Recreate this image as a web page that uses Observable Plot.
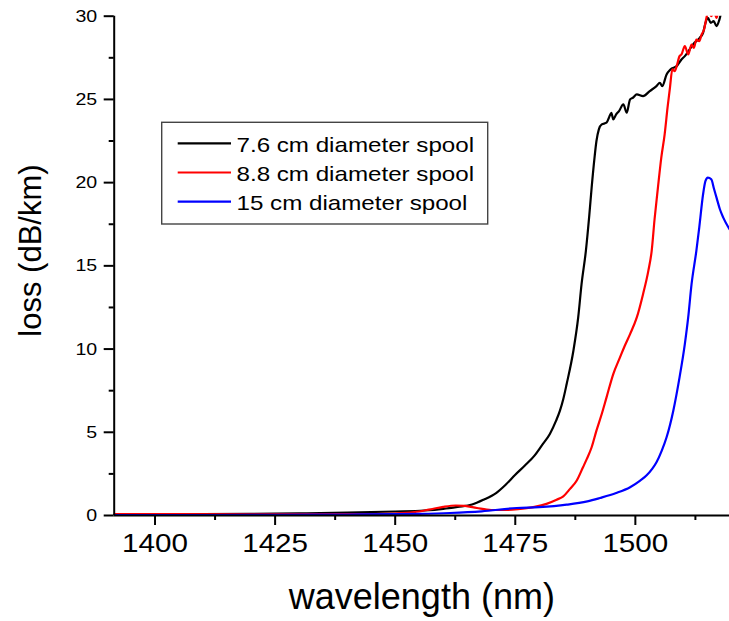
<!DOCTYPE html>
<html>
<head>
<meta charset="utf-8">
<script src="https://cdn.jsdelivr.net/npm/d3@7"></script>
<script src="https://cdn.jsdelivr.net/npm/@observablehq/plot@0.6"></script>
<style>
  body { margin: 0; background: #fff; }
  #wrap { position: relative; width: 729px; height: 621px; }
</style>
</head>
<body>
<div id="wrap"></div>
<script>
// ---- data ----
const seriesNames = ["7.6 cm diameter spool", "8.8 cm diameter spool", "15 cm diameter spool"];
const seriesColors = ["#000000", "#ff0000", "#0000ff"];

const wl76 = [1391.5,1400,1410,1420,1430,1440,1450,1456,1460,1463,1466,1468.4,1471,1473,1475,1477,1479,1480.5,1482.2,1483.5,1484.3,1485,1485.7,1487.1,1488.1,1488.8,1489.7,1490.4,1490.9,1491.5,1491.9,1492.4,1493.0,1494.0,1494.5,1495.0,1495.4,1496.0,1496.6,1497.5,1498.2,1498.9,1499.5,1500.3,1501.6,1503.0,1504.4,1505.1,1505.6,1506.5,1507.3,1508.6,1509.6,1510.3,1511.3,1512.3,1513.4,1514.1,1514.6,1515.1,1515.7,1516.3,1516.9,1517.5,1517.9,1519.6];
const loss76 = [0.05,0.06,0.08,0.10,0.13,0.17,0.24,0.30,0.40,0.52,0.66,0.95,1.35,1.85,2.45,3.0,3.6,4.2,4.9,5.7,6.3,7.0,7.9,9.9,11.9,13.9,15.9,18.0,19.7,21.5,22.5,23.2,23.5,23.6,23.9,24.2,23.8,24.1,24.3,24.7,24.2,25.0,25.1,25.3,25.2,25.5,25.8,26.0,25.8,26.5,26.8,27.0,27.4,27.6,28.0,28.4,28.7,29.0,29.6,29.9,29.6,29.7,29.4,29.8,30.2,30.5];

const wl88 = [1391.5,1400,1420,1440,1450,1454,1457,1460,1462.6,1464.5,1467,1470,1473,1476,1479,1481.5,1483.6,1485,1486.4,1487.8,1489.1,1489.9,1490.9,1491.9,1493.0,1494.0,1495.4,1496.8,1497.8,1498.9,1500.3,1501.6,1502.7,1503.4,1504.0,1504.7,1505.4,1506.1,1506.7,1507.2,1507.7,1508.2,1508.6,1509.2,1509.6,1510.3,1511.0,1511.7,1512.2,1512.7,1513.3,1513.8,1514.3,1514.8,1515.3,1515.8,1516.4,1516.9,1517.5,1518.3,1519.6];
const loss88 = [0.08,0.08,0.07,0.08,0.12,0.2,0.35,0.52,0.6,0.58,0.45,0.33,0.33,0.4,0.52,0.7,0.95,1.15,1.6,2.1,2.9,3.4,4.1,5.1,6.1,7.1,8.5,9.5,10.2,10.9,11.9,13.3,14.7,15.9,17.8,19.7,21.5,22.9,24.5,25.7,26.8,26.7,27.0,27.6,27.7,28.2,27.7,28.3,28.1,28.6,28.5,28.9,29.2,29.9,30.4,30.0,30.3,29.9,30.5,30.2,30.6];

const wl15 = [1391.5,1410,1425,1440,1450,1455,1461.4,1468,1475.3,1480,1485.7,1490,1492.6,1496,1498.9,1501,1502.3,1503.5,1504.4,1505.5,1506.5,1507.9,1509.2,1510.3,1511.0,1511.7,1512.7,1513.3,1514.1,1514.6,1515.1,1515.8,1516.4,1516.9,1517.6,1518.3,1519.6];
const loss15 = [0.02,0.03,0.04,0.06,0.08,0.1,0.15,0.25,0.45,0.5,0.65,0.85,1.05,1.35,1.7,2.1,2.4,2.8,3.2,3.9,4.7,6.3,8.3,10.3,11.9,13.9,15.9,17.3,19.3,20.1,20.3,20.2,19.6,19.1,18.4,17.9,17.2];

const xDomain = [1391.5, 1519.6];
const yDomain = [0, 30];
const xMajorTicks = [1400, 1425, 1450, 1475, 1500];
const xMinorTicks = [1412.5, 1437.5, 1462.5, 1487.5, 1512.5];
const yMajorTicks = [0, 5, 10, 15, 20, 25, 30];
const yMinorTicks = [2.5, 7.5, 12.5, 17.5, 22.5, 27.5];
const xLabel = "wavelength (nm)";
const yLabel = "loss (dB/km)";

// ---- build rows ----
const rows = [];
[[wl76, loss76], [wl88, loss88], [wl15, loss15]].forEach(([wl, ls], i) => {
  wl.forEach((w, j) => rows.push({series: seriesNames[i], wl: w, loss: ls[j]}));
});

const font = "'Liberation Sans', Arial, Helvetica, sans-serif";

const chart = Plot.plot({
  width: 729,
  height: 621,
  marginLeft: 113.7,
  marginRight: 0,
  marginTop: 15.7,
  marginBottom: 106,
  style: {fontFamily: font, background: "white", color: "black", overflow: "visible"},
  x: {domain: xDomain},
  y: {domain: yDomain},
  color: {domain: seriesNames, range: seriesColors},
  marks: [
    Plot.line(rows, {x: "wl", y: "loss", z: "series", stroke: "series", strokeWidth: 2.2, curve: "monotone-x", clip: true}),
    Plot.axisY({ticks: yMajorTicks, tickSize: 10, tickPadding: 7, fontSize: 17, strokeWidth: 2, tickFormat: d => `${d}`, label: null}),
    Plot.axisY({ticks: yMinorTicks, tickSize: 5, strokeWidth: 2, tickFormat: () => "", label: null}),
    Plot.axisX({ticks: xMajorTicks, tickSize: 10, tickPadding: 8, fontSize: 26, strokeWidth: 2, tickFormat: d => `${d}`, label: null}),
    Plot.axisX({ticks: xMinorTicks, tickSize: 5, strokeWidth: 2, tickFormat: () => "", label: null}),
    Plot.ruleX([xDomain[0]], {strokeWidth: 2}),
    Plot.ruleY([0], {strokeWidth: 2}),
    Plot.text([xLabel], {text: d => d, frameAnchor: "bottom", textAnchor: "middle", lineAnchor: "middle", dy: 81.5, fontSize: 36, ariaLabel: "xlabel"}),
    Plot.text([yLabel], {text: d => d, frameAnchor: "left", textAnchor: "middle", lineAnchor: "middle", rotate: -90, dx: -83.6, dy: -15.3, fontSize: 31, ariaLabel: "ylabel"})
  ]
});

document.getElementById("wrap").appendChild(chart);

// ---- legend (inside plot area, upper left) ----
const svg = d3.select(chart);
const lg = svg.append("g").attr("transform", "translate(161.7,122.3)")
  .attr("font-family", font).attr("text-anchor", "start");
lg.append("rect").attr("x", 0).attr("y", 0).attr("width", 326).attr("height", 101.7)
  .attr("fill", "white").attr("stroke", "#444").attr("stroke-width", 1.4);
seriesNames.forEach((name, i) => {
  const cy = 21 + i * 29.2;
  lg.append("line").attr("x1", 16).attr("x2", 69.3).attr("y1", cy).attr("y2", cy)
    .attr("stroke", seriesColors[i]).attr("stroke-width", 2.2);
  lg.append("text").attr("x", 74.8).attr("y", cy + 8.4).attr("font-size", 21)
    .attr("text-anchor", "start").attr("fill", "black").attr("class", "legtext").text(name);
});

// ---- slight horizontal widening of text to match the reference's proportions ----
function stretch(nodes, k) {
  nodes.forEach(n => {
    if (!n.textContent) return;
    const w = n.getComputedTextLength();
    n.setAttribute("textLength", (w * k).toFixed(2));
    n.setAttribute("lengthAdjust", "spacingAndGlyphs");
  });
}
stretch(chart.querySelectorAll('g[aria-label="x-axis tick label"] text'), 1.14);
stretch(chart.querySelectorAll('g[aria-label="y-axis tick label"] text'), 1.15);
stretch(chart.querySelectorAll('g[aria-label="xlabel"] text'), 1.08);
stretch(chart.querySelectorAll('text.legtext'), 1.15);
</script>
</body>
</html>
